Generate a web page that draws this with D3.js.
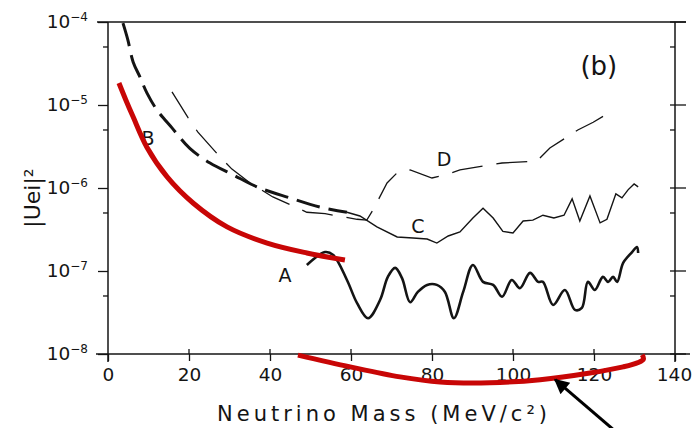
<!DOCTYPE html>
<html>
<head>
<meta charset="utf-8">
<script src="https://cdn.jsdelivr.net/npm/d3@7"></script>
<style>
  body { margin: 0; background: #fff; }
  svg { display: block; }
  text { font-family: "DejaVu Sans", sans-serif; fill: #141414; }
</style>
</head>
<body>
<svg id="svg_mass" width="692" height="428"></svg>
<script>
// curve A (thick solid)
const massA = [49.1, 53.6, 55.6, 59.0, 61.5, 64.2, 67.2, 69.1, 70.9, 72.6, 74.6, 76.5, 78.8, 81.2, 83.2, 85.4, 87.7, 90.1, 92.6, 95.1, 97.3, 99.7, 101.7, 104.2, 106.2, 107.4, 109.9, 112.8, 115.3, 117.0, 118.5, 120.2, 122.2, 123.5, 124.7, 125.7, 127.2, 129.4, 130.6, 130.9]
const valA = [1.18e-7, 1.69e-7, 1.56e-7, 7.8e-8, 4.1e-8, 2.7e-8, 4.5e-8, 8.5e-8, 1.09e-7, 8.2e-8, 4.2e-8, 5.6e-8, 6.8e-8, 6.8e-8, 5.6e-8, 2.7e-8, 5.6e-8, 1.18e-7, 7.4e-8, 6.8e-8, 4.9e-8, 7.8e-8, 6.2e-8, 9.5e-8, 7.4e-8, 7.4e-8, 3.9e-8, 5.9e-8, 3.4e-8, 3.6e-8, 7.4e-8, 5.9e-8, 8.5e-8, 7.4e-8, 8.5e-8, 7.4e-8, 1.25e-7, 1.69e-7, 1.95e-7, 1.65e-7]

// curve B (thick dashed)
const massB = [3.7, 4.9, 6.2, 7.9, 9.6, 12.1, 15.8, 20.2, 25.2, 30.9, 36.8, 44.9, 52.3, 59.0]
const valB = [9.7e-5, 6.1e-5, 3.3e-5, 2.17e-5, 1.40e-5, 8.7e-6, 5.3e-6, 3.0e-6, 2.0e-6, 1.44e-6, 1.03e-6, 7.6e-7, 5.9e-7, 5.1e-7]

// curve C (thin solid)
const massC = [59.0, 62.2, 66.4, 71.4, 75.3, 78.8, 81.2, 84.0, 86.9, 90.1, 92.6, 95.1, 97.5, 100.0, 102.5, 104.9, 107.4, 110.1, 112.6, 114.6, 116.5, 119.0, 121.5, 123.2, 125.4, 126.9, 128.4, 129.9, 130.9]
const valC = [5.1e-7, 4.6e-7, 3.4e-7, 2.57e-7, 2.5e-7, 2.43e-7, 2.17e-7, 2.64e-7, 2.95e-7, 4.35e-7, 5.7e-7, 4.35e-7, 3.0e-7, 2.87e-7, 4.0e-7, 4.1e-7, 4.7e-7, 4.35e-7, 4.7e-7, 7.4e-7, 4.0e-7, 8.0e-7, 3.8e-7, 4.2e-7, 8.5e-7, 7.6e-7, 9.5e-7, 1.12e-6, 1.03e-6]

// curve D (thin long dashes)
const massD = [15.8, 19.8, 22.2, 27.7, 30.6, 35.1, 40.7, 49.1, 53.6, 61.5, 63.9, 65.4, 68.9, 71.6, 74.6, 80.0, 84.0, 86.9, 92.6, 97.3, 105.9, 109.1, 116.0, 119.8, 124.0]
const valD = [1.44e-5, 7.0e-6, 4.7e-6, 2.36e-6, 1.69e-6, 1.15e-6, 7.8e-7, 5.1e-7, 4.9e-7, 4.2e-7, 4.1e-7, 5.4e-7, 1.15e-6, 1.56e-6, 1.65e-6, 1.32e-6, 1.48e-6, 1.65e-6, 1.84e-6, 2.0e-6, 2.11e-6, 3.03e-6, 5.0e-6, 6.2e-6, 8.2e-6]

// red hand-drawn marks
const massRed1 = [2.7, 4.4, 6.2, 9.6, 14.6, 21.0, 29.4, 39.3, 49.1, 58.5]
const valRed1 = [1.84e-5, 1.15e-5, 7.2e-6, 3.1e-6, 1.36e-6, 6.6e-7, 3.4e-7, 2.17e-7, 1.65e-7, 1.36e-7]
const massRed2 = [46.9, 59.8, 72.1, 82.0, 94.3, 106.7, 119.0, 127.2, 130.9, 132.2, 131.9]
const valRed2 = [9.7e-9, 7.0e-9, 5.3e-9, 4.6e-9, 4.5e-9, 4.9e-9, 5.9e-9, 7.0e-9, 7.9e-9, 8.7e-9, 9.8e-9]

// arrow: tail then tip
const massArrow = [124.6, 110.4]
const valArrow = [1.25e-9, 4.9e-9]

// ticks
const xTicks = [0, 20, 40, 60, 80, 100, 120, 140]
const yMajor = [1e-4, 1e-5, 1e-6, 1e-7, 1e-8]
const yMinor = [5e-5, 5e-6, 5e-7, 5e-8]

// curve labels
const labelText = ["A", "B", "C", "D", "(b)"]
const labelMass = [43.7, 9.9, 76.5, 83.0, 121.2]
const labelVal = [7.4e-8, 3.3e-6, 2.87e-7, 1.84e-6, 2.3e-5]

const svg_mass = d3.select("#svg_mass")
const ink = "#141414"
const red = "#c80606"

var x = d3.scaleLinear().domain([0, 140]).range([108, 675])
var y = d3.scaleLog().domain([1e-8, 1e-4]).range([354, 22])

var line = d3.line()
    .x(d => x(d[0]))
    .y(d => y(d[1]))

// frame (lines run a bit past the corners like the scan)
var frame = svg_mass.append("g").attr("stroke", ink).attr("stroke-width", 1.5)
frame.append("line")
    .attr("x1", x(0) - 11).attr("x2", x(140) + 11)
    .attr("y1", y(1e-4)).attr("y2", y(1e-4))
frame.append("line")
    .attr("x1", x(0) - 12).attr("x2", x(140) + 15)
    .attr("y1", y(1e-8)).attr("y2", y(1e-8))
frame.append("line")
    .attr("x1", x(0)).attr("x2", x(0))
    .attr("y1", y(1e-4)).attr("y2", y(1e-8) + 8)
frame.append("line")
    .attr("x1", x(140)).attr("x2", x(140))
    .attr("y1", y(1e-4)).attr("y2", y(1e-8) + 8)

// bottom axis
var xAxis = d3.axisBottom(x)
    .tickValues(xTicks)
    .tickSize(7)
    .tickPadding(7)
    .tickFormat(d3.format("d"))

var gx = svg_mass.append("g")
    .attr("transform", "translate(0," + y(1e-8) + ")")
    .call(xAxis)
gx.select(".domain").remove()
gx.selectAll("line").attr("stroke", ink).attr("stroke-width", 1.3)
gx.selectAll("text")
    .attr("fill", ink)
    .style("font-size", "18.5px")
    .style("font-family", "DejaVu Sans, sans-serif")
// last label sits against the page edge as in the scan
gx.selectAll("text").filter(d => d == 140).attr("dx", -1)

// small inward marks on the bottom axis
svg_mass.append("g")
    .selectAll("line")
    .data(xTicks.slice(1, -1))
    .enter().append("line")
    .attr("x1", d => x(d)).attr("x2", d => x(d))
    .attr("y1", y(1e-8) - 5).attr("y2", y(1e-8))
    .attr("stroke", ink).attr("stroke-width", 1.3)

// left axis, labels written as 10 with a superscript
var yAxis = d3.axisLeft(y)
    .tickValues(yMajor)
    .tickSize(10)
    .tickPadding(10)
    .tickFormat(d => Math.round(Math.log10(d)))

var gy = svg_mass.append("g")
    .attr("transform", "translate(" + x(0) + ",0)")
    .call(yAxis)
gy.select(".domain").remove()
gy.selectAll("line").attr("stroke", ink).attr("stroke-width", 1.3)
gy.selectAll("text").each(function (d) {
    var t = d3.select(this)
    var ex = Math.round(Math.log10(d))
    t.text(null)
        .attr("fill", ink)
        .style("font-size", "18.5px")
        .style("font-family", "DejaVu Sans, sans-serif")
    t.append("tspan").text("10")
    t.append("tspan")
        .attr("dy", "-0.62em")
        .style("font-size", "12px")
        .text("\u2212" + Math.abs(ex))
})

svg_mass.append("g")
    .selectAll("line")
    .data(yMinor)
    .enter().append("line")
    .attr("x1", x(0) - 5).attr("x2", x(0))
    .attr("y1", d => y(d)).attr("y2", d => y(d))
    .attr("stroke", ink).attr("stroke-width", 1.3)

// right axis ticks
svg_mass.append("g")
    .selectAll("line")
    .data(yMajor)
    .enter().append("line")
    .attr("x1", x(140) - 5).attr("x2", x(140) + 11)
    .attr("y1", d => y(d)).attr("y2", d => y(d))
    .attr("stroke", ink).attr("stroke-width", 1.3)
svg_mass.append("g")
    .selectAll("line")
    .data(yMinor)
    .enter().append("line")
    .attr("x1", x(140) - 5).attr("x2", x(140))
    .attr("y1", d => y(d)).attr("y2", d => y(d))
    .attr("stroke", ink).attr("stroke-width", 1.3)

// axis titles
svg_mass.append("text")
    .attr("x", 382)
    .attr("y", 421)
    .attr("text-anchor", "middle")
    .attr("textLength", 330)
    .attr("lengthAdjust", "spacing")
    .style("font-size", "21px")
    .text("Neutrino Mass (MeV/c\u00b2)")

svg_mass.append("text")
    .attr("transform", "translate(40,198) rotate(-90)")
    .attr("text-anchor", "middle")
    .style("font-size", "22px")
    .text("|Uei|\u00b2")

// the curves
svg_mass.append("path")
    .datum(d3.zip(massD, valD))
    .attr("d", line)
    .attr("fill", "none")
    .attr("stroke", ink)
    .attr("stroke-width", 1.3)
    .attr("stroke-dasharray", "31,14")

svg_mass.append("path")
    .datum(d3.zip(massB, valB))
    .attr("d", line.curve(d3.curveCatmullRom))
    .attr("fill", "none")
    .attr("stroke", ink)
    .attr("stroke-width", 3)
    .attr("stroke-dasharray", "24,9")

svg_mass.append("path")
    .datum(d3.zip(massC, valC))
    .attr("d", line.curve(d3.curveLinear))
    .attr("fill", "none")
    .attr("stroke", ink)
    .attr("stroke-width", 1.4)

svg_mass.append("path")
    .datum(d3.zip(massA, valA))
    .attr("d", line.curve(d3.curveCatmullRom))
    .attr("fill", "none")
    .attr("stroke", ink)
    .attr("stroke-width", 2.6)

// curve labels
svg_mass.append("g")
    .selectAll("text")
    .data(d3.zip(labelText, labelMass, labelVal))
    .enter().append("text")
    .attr("x", d => x(d[1]))
    .attr("y", d => y(d[2]))
    .attr("text-anchor", "middle")
    .style("font-size", d => d[0] == "(b)" ? "26px" : "19px")
    .text(d => d[0])

// red hand drawn annotations
svg_mass.append("g")
    .selectAll("path")
    .data([d3.zip(massRed1, valRed1), d3.zip(massRed2, valRed2)])
    .enter().append("path")
    .attr("d", line.curve(d3.curveCatmullRom))
    .attr("fill", "none")
    .attr("stroke", red)
    .attr("stroke-width", 5)
    .attr("stroke-linecap", "butt")

// black arrow
svg_mass.append("defs").append("marker")
    .attr("id", "arrow-head")
    .attr("viewBox", "0 0 10 10")
    .attr("refX", 9)
    .attr("refY", 5)
    .attr("markerWidth", 6)
    .attr("markerHeight", 5)
    .attr("markerUnits", "strokeWidth")
    .attr("orient", "auto")
    .append("path")
    .attr("d", "M0,0L10,5L0,10z")
    .attr("fill", "#000")

svg_mass.append("path")
    .datum(d3.zip(massArrow, valArrow))
    .attr("d", line.curve(d3.curveLinear))
    .attr("stroke", "#000")
    .attr("stroke-width", 3)
    .attr("marker-end", "url(#arrow-head)")
</script>
</body>
</html>
